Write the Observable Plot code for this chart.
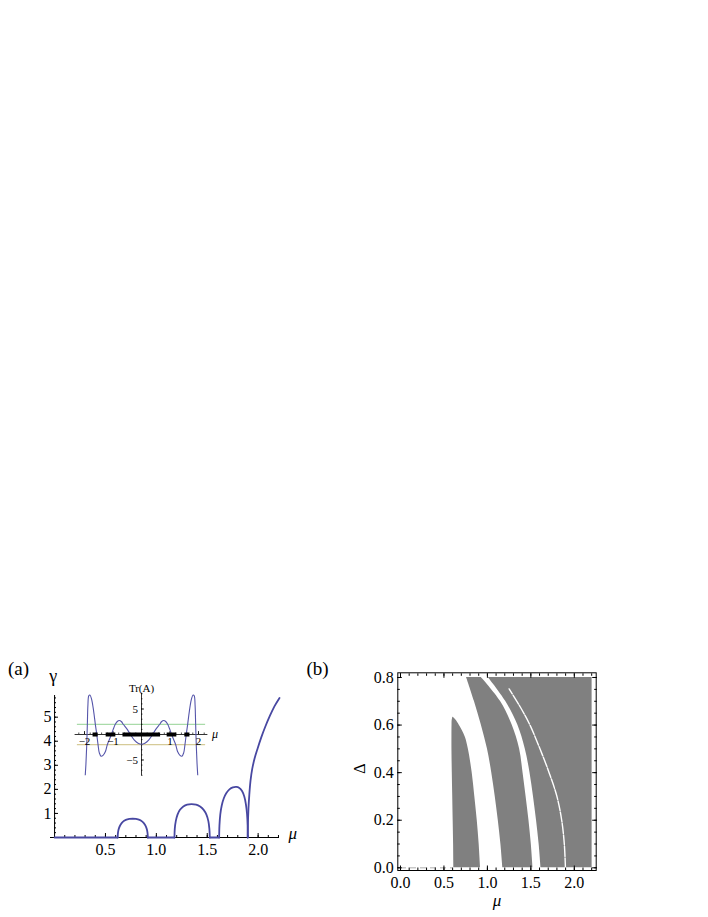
<!DOCTYPE html>
<html><head><meta charset="utf-8">
<script src="https://cdn.jsdelivr.net/npm/d3@7"></script>
<script src="https://cdn.jsdelivr.net/npm/@observablehq/plot@0.6"></script>
<style>
body{margin:0;background:#fff;}
#root{position:relative;width:708px;height:917px;background:#fff;overflow:hidden;font-family:'Liberation Serif','Times New Roman',Tinos,'DejaVu Serif',serif;}
.lbl{position:absolute;font-family:'Liberation Serif','Times New Roman',Tinos,'DejaVu Serif',serif;line-height:1;white-space:nowrap;color:#000;}
</style></head><body><div id="root"></div>
<script>
// ---------- Panel (a): gamma vs mu ----------
const arch1Mu    = [0.620,0.623,0.632,0.648,0.670,0.700,0.735,0.768,0.800,0.835,0.865,0.888,0.904,0.913,0.916];
const arch1Gamma = [0,0.20,0.38,0.53,0.65,0.73,0.77,0.78,0.77,0.73,0.65,0.53,0.38,0.20,0];
const arch2Mu    = [1.178,1.181,1.191,1.208,1.232,1.265,1.303,1.345,1.390,1.430,1.465,1.492,1.511,1.521,1.525];
const arch2Gamma = [0,0.36,0.68,0.95,1.15,1.29,1.37,1.39,1.37,1.29,1.15,0.95,0.68,0.36,0];
const arch3Mu    = [1.617,1.620,1.628,1.642,1.662,1.688,1.718,1.752,1.785,1.815,1.842,1.864,1.880,1.891,1.897,1.898];
const arch3Gamma = [0,0.50,0.95,1.32,1.62,1.85,2.00,2.08,2.10,2.06,1.93,1.70,1.38,0.98,0.50,0];
const branch4Mu    = [1.898,1.900,1.905,1.913,1.925,1.942,1.965,1.995,2.030,2.070,2.115,2.160,2.210];
const branch4Gamma = [0,0.60,1.20,1.75,2.35,2.85,3.28,3.70,4.15,4.60,5.05,5.45,5.80];
const zeroSegStart = [0, 0.916, 1.525];
const zeroSegEnd   = [0.62, 1.178, 1.617];
const aTicksX = [0.5, 1.0, 1.5, 2.0];
const aTicksY = [1, 2, 3, 4, 5];

// ---------- Inset: Tr(A) vs mu ----------
const trMu = [-1.975,-1.95,-1.925,-1.90,-1.88,-1.85,-1.81,-1.75,-1.68,-1.62,-1.57,-1.525,-1.48,-1.42,-1.35,-1.27,-1.20,-1.09,-1.0,-0.92,-0.85,-0.78,-0.70,-0.64,-0.50,-0.38,-0.25,-0.12,
              0,0.12,0.25,0.38,0.50,0.64,0.70,0.78,0.85,0.92,1.0,1.09,1.20,1.27,1.35,1.42,1.48,1.525,1.57,1.62,1.68,1.75,1.81,1.85,1.88,1.90,1.925,1.95,1.975];
const trVal = [-8.1,-5.8,-2.5,2.0,5.8,7.6,7.75,6.9,4.6,2.0,0.0,-2.0,-3.6,-4.25,-4.1,-3.4,-2.0,-0.5,0.9,2.0,2.55,2.75,2.5,2.0,1.0,-0.1,-1.1,-1.7,
               -1.9,-1.7,-1.1,-0.1,1.0,2.0,2.5,2.75,2.55,2.0,0.9,-0.5,-2.0,-3.4,-4.1,-4.25,-3.6,-2.0,0.0,2.0,4.6,6.9,7.75,7.6,5.8,2.0,-2.5,-5.8,-8.1];
const bandStart = [-1.70,-1.24,-0.65,0.90,1.52];
const bandEnd   = [-1.52,-0.90, 0.67,1.24,1.70];
const thresholdLevels = [2, -2];
const thresholdSpan = [-2.25, 2.25];
const insetTicksX = [-2, -1, 1, 2];
const insetTicksY = [-5, 5];

// ---------- Panel (b): stability regions in (mu, Delta) ----------
const r1Delta = [0,0.1,0.2,0.3,0.4,0.5,0.55,0.6,0.62,0.633];
const r1Left  = [0.615,0.611,0.606,0.601,0.596,0.592,0.592,0.593,0.595,0.603];
const r1Right = [0.922,0.905,0.883,0.855,0.825,0.780,0.745,0.675,0.640,0.606];
const r2Delta = [0,0.1,0.2,0.3,0.4,0.5,0.6,0.7,0.8];
const r2Left  = [1.178,1.155,1.125,1.090,1.050,1.000,0.930,0.850,0.760];
const r2Right = [1.525,1.505,1.478,1.445,1.410,1.370,1.285,1.150,0.930];
const r3Delta = [0,0.1,0.2,0.3,0.4,0.5,0.6,0.7,0.8];
const r3Left  = [1.617,1.595,1.565,1.530,1.490,1.435,1.350,1.210,1.010];
const r3Right = [2.205,2.205,2.205,2.205,2.205,2.205,2.205,2.205,2.205];
const gapLineDelta = [0,0.1,0.2,0.3,0.4,0.5,0.6,0.675,0.752];
const gapLineMu    = [1.898,1.885,1.855,1.800,1.710,1.605,1.490,1.380,1.250];
const bottomDashMu = [0, 0.6];
const bTicksX = [0, 0.5, 1.0, 1.5, 2.0];
const bTicksY = [0, 0.2, 0.4, 0.6, 0.8];

// ---------- build tables ----------
const gammaRows = [];
[[arch1Mu, arch1Gamma, "a1"], [arch2Mu, arch2Gamma, "a2"], [arch3Mu, arch3Gamma, "a3"], [branch4Mu, branch4Gamma, "b4"]]
  .forEach(([m, g, id]) => m.forEach((mu, i) => gammaRows.push({mu, gamma: g[i], seg: id})));
zeroSegStart.forEach((s, i) => {
  gammaRows.push({mu: s, gamma: 0, seg: "z" + i});
  gammaRows.push({mu: zeroSegEnd[i], gamma: 0, seg: "z" + i});
});
const trRows = trMu.map((mu, i) => ({mu, tr: trVal[i]}));
const bandRows = bandStart.map((a, i) => ({a, b: bandEnd[i]}));
const regionRows = (D, L, R) => D.map((d, i) => ({d, l: L[i], r: R[i]}));
const gapRows = gapLineDelta.map((d, i) => ({d, mu: gapLineMu[i]}));

const serif = "'Liberation Serif','Times New Roman',Tinos,'DejaVu Serif',serif";
const blue = "#4848a2";
const gray = "#808080";
const f1 = d3.format(".1f");
const fi = d3.format("d");
const minorA_X = d3.range(0.1, 2.21, 0.1);
const minorA_Y = d3.range(0.2, 5.81, 0.2);

const root = document.getElementById("root");
function place(el, left, top) {
  el.style.position = "absolute"; el.style.left = left + "px"; el.style.top = top + "px";
  root.appendChild(el);
}

// ---------- Panel (a) main ----------
const aPlot = Plot.plot({
  width: 300, height: 220,
  marginLeft: 50, marginRight: 21, marginTop: 35, marginBottom: 43,
  x: {domain: [-0.04, 2.21], label: null},
  y: {domain: [0, 5.9], label: null},
  style: {fontFamily: serif, background: "transparent", overflow: "visible", color: "black"},
  marks: [
    Plot.ruleY([0], {stroke: "black", strokeWidth: 1}),
    Plot.ruleX([0], {stroke: "black", strokeWidth: 1}),
    Plot.axisX({ticks: minorA_X, tickSize: -2, fill: "none", label: null}),
    Plot.axisX({ticks: aTicksX, tickSize: -4, fill: "none", label: null}),
    Plot.axisX({ticks: aTicksX, tickSize: 0, tickPadding: 6, tickFormat: f1, fontSize: 16, label: null}),
    Plot.axisY({ticks: minorA_Y, dx: 4, tickSize: -2, fill: "none", label: null}),
    Plot.axisY({ticks: aTicksY, dx: 4, tickSize: -4, fill: "none", label: null}),
    Plot.axisY({ticks: aTicksY, dx: 4, tickSize: 0, tickPadding: 3, tickFormat: fi, fontSize: 16, label: null}),
    Plot.line(gammaRows, {x: "mu", y: "gamma", z: "seg", curve: "catmull-rom", stroke: blue, strokeWidth: 1.8}),
    Plot.text(["μ"], {frameAnchor: "bottom-right", dx: 9, dy: 1, textAnchor: "start", fontSize: 17, fontStyle: "italic"})
  ]
});
place(aPlot, 0, 660);

// ---------- Inset ----------
const insetX = [-2.33, 2.33], insetY = [-8.1, 8.1];
const iW = 170, iH = 118, iML = 14.6, iMR = 22.6, iMT = 20.7, iMB = 14.7;
const axisDx = (0 - insetX[0]) / (insetX[1] - insetX[0]) * (iW - iML - iMR);
const axisDy = -(0 - insetY[0]) / (insetY[1] - insetY[0]) * (iH - iMT - iMB);
const inset = Plot.plot({
  width: iW, height: iH, marginLeft: iML, marginRight: iMR, marginTop: iMT, marginBottom: iMB,
  x: {domain: insetX, label: null},
  y: {domain: insetY, label: null},
  style: {fontFamily: serif, background: "transparent", overflow: "visible", color: "black"},
  marks: [
    Plot.ruleY([thresholdLevels[0]], {x1: thresholdSpan[0], x2: thresholdSpan[1], stroke: "#94d294", strokeWidth: 1}),
    Plot.ruleY([thresholdLevels[1]], {x1: thresholdSpan[0], x2: thresholdSpan[1], stroke: "#d6cb98", strokeWidth: 1.2}),
    Plot.ruleY([0], {stroke: "black", strokeWidth: 0.8}),
    Plot.ruleX([0], {stroke: "black", strokeWidth: 0.8}),
    Plot.axisX({ticks: d3.range(-2.2, 2.21, 0.2), dy: axisDy, tickSize: -1.5, fill: "none", label: null, strokeWidth: 0.7}),
    Plot.axisX({ticks: insetTicksX, dy: axisDy, tickSize: -3, fill: "none", label: null, strokeWidth: 0.8}),
    Plot.axisY({ticks: d3.range(-8, 8.1, 1), dx: axisDx, tickSize: -1.5, fill: "none", label: null, strokeWidth: 0.7}),
    Plot.axisY({ticks: insetTicksY, dx: axisDx, tickSize: -3, fill: "none", label: null, strokeWidth: 0.8}),
    Plot.line(trRows, {x: "mu", y: "tr", curve: "catmull-rom", stroke: "#5555aa", strokeWidth: 1.1, clip: true}),
    Plot.ruleY(bandRows, {y: 0, x1: "a", x2: "b", stroke: "black", strokeWidth: 4}),
    Plot.axisX({ticks: insetTicksX, dy: axisDy, tickSize: 0, tickPadding: 3, tickFormat: fi, fontSize: 11, label: null}),
    Plot.axisY({ticks: insetTicksY, dx: axisDx, tickSize: 0, tickPadding: 3.5, tickFormat: fi, fontSize: 11, label: null}),
    Plot.text(["Tr(A)"], {x: 0, frameAnchor: "top", dy: -9, fontSize: 11}),
    Plot.text(["μ"], {frameAnchor: "right", dy: axisDy + (iH - iMT - iMB) / 2, dx: 4, textAnchor: "start", fontSize: 12, fontStyle: "italic"})
  ]
});
place(inset, 60, 672);

// ---------- Panel (b) ----------
const bPlot = Plot.plot({
  width: 290, height: 267,
  marginLeft: 67.3, marginRight: 24.3, marginTop: 22.3, marginBottom: 47,
  x: {domain: [-0.031, 2.252], label: null},
  y: {domain: [-0.0113, 0.8197], label: null},
  style: {fontFamily: serif, background: "transparent", overflow: "visible", color: "black"},
  marks: [
    Plot.areaX(regionRows(r1Delta, r1Left, r1Right), {y: "d", x1: "l", x2: "r", fill: gray, curve: "catmull-rom"}),
    Plot.areaX(regionRows(r2Delta, r2Left, r2Right), {y: "d", x1: "l", x2: "r", fill: gray, curve: "catmull-rom"}),
    Plot.areaX(regionRows(r3Delta, r3Left, r3Right), {y: "d", x1: "l", x2: "r", fill: gray, curve: "catmull-rom"}),
    Plot.line(gapRows, {x: "mu", y: "d", stroke: "white", strokeWidth: 1.4, curve: "catmull-rom", strokeDasharray: "10,1.5"}),
    Plot.ruleY([0], {x1: bottomDashMu[0], x2: bottomDashMu[1], stroke: "#c8c8c8", strokeWidth: 1.5, strokeDasharray: "6,4"}),
    Plot.frame({stroke: "black", strokeWidth: 1}),
    Plot.axisX({ticks: d3.range(0, 2.21, 0.1), tickSize: -2.5, fill: "none", label: null}),
    Plot.axisX({ticks: bTicksX, tickSize: -4.5, fill: "none", label: null}),
    Plot.axisX({anchor: "top", ticks: d3.range(0, 2.21, 0.1), tickSize: -2.5, fill: "none", label: null}),
    Plot.axisX({anchor: "top", ticks: bTicksX, tickSize: -4.5, fill: "none", label: null}),
    Plot.axisY({ticks: d3.range(0, 0.801, 0.05), tickSize: -2.5, fill: "none", label: null}),
    Plot.axisY({ticks: bTicksY, tickSize: -4.5, fill: "none", label: null}),
    Plot.axisY({anchor: "right", ticks: d3.range(0, 0.801, 0.05), tickSize: -2.5, fill: "none", label: null}),
    Plot.axisY({anchor: "right", ticks: bTicksY, tickSize: -4.5, fill: "none", label: null}),
    Plot.axisX({ticks: bTicksX, tickSize: 0, tickPadding: 6, tickFormat: f1, fontSize: 16, label: null}),
    Plot.axisY({ticks: bTicksY, tickSize: 0, tickPadding: 4, tickFormat: f1, fontSize: 16, label: null}),
    Plot.text(["Δ"], {frameAnchor: "left", dx: -38, dy: 2, rotate: -90, fontSize: 16}),
    Plot.text(["μ"], {frameAnchor: "bottom", dy: 35, fontSize: 17, fontStyle: "italic"})
  ]
});
place(bPlot, 330, 650);

// ---------- panel tags and gamma label ----------
function label(text, left, top, size, extra) {
  const d = document.createElement("div");
  d.className = "lbl"; d.textContent = text; d.style.fontSize = size + "px";
  d.style.left = left + "px"; d.style.top = top + "px";
  if (extra) Object.assign(d.style, extra);
  root.appendChild(d);
}
label("(a)", 8, 658.6, 19);
label("(b)", 306.5, 658.6, 19);
label("γ", 43.3, 667, 18, {width: "20px", textAlign: "center"});
</script></body></html>
